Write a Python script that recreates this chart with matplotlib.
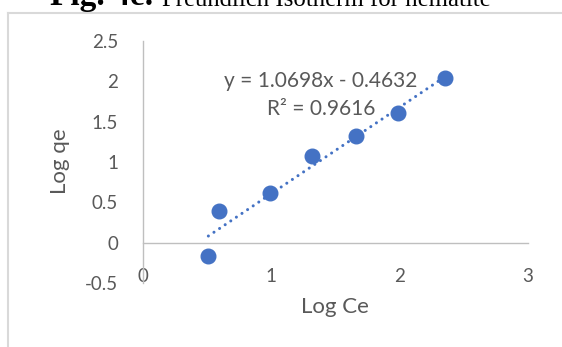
import matplotlib
matplotlib.use("Agg")
import matplotlib.pyplot as plt
from matplotlib.lines import Line2D

# Data
log_ce = [0.51, 0.594, 0.99, 1.318, 1.664, 1.99, 2.354]
log_qe = [-0.166, 0.392, 0.618, 1.077, 1.325, 1.602, 2.043]
slope = 1.0698
intercept = -0.4632
r_squared = 0.9616
x_ticks = [0, 1, 2, 3]
y_ticks = [-0.5, 0, 0.5, 1, 1.5, 2, 2.5]

W, H = 562, 347
fig = plt.figure(figsize=(W / 100, H / 100), dpi=100)
fig.patch.set_facecolor("white")

font = ["Lato", "DejaVu Sans"]
grey_txt = "#595959"
axis_col = "#bfbfbf"
blue = "#4472C4"

ax = fig.add_axes([143 / W, 1 - 283 / H, (527.5 - 143) / W, (283 - 41) / H])
ax.set_xlim(0, 3)
ax.set_ylim(-0.5, 2.5)
ax.set_facecolor("none")

for s in ["top", "right"]:
    ax.spines[s].set_visible(False)
ax.spines["bottom"].set_position(("data", 0))
ax.spines["left"].set_position(("data", 0))
ax.spines["bottom"].set_color(axis_col)
ax.spines["left"].set_color(axis_col)
ax.spines["bottom"].set_linewidth(1.0)
ax.spines["left"].set_linewidth(1.0)

ax.set_xticks(x_ticks)
ax.set_yticks(y_ticks)
ax.set_xticklabels([f"{v:g}" for v in x_ticks])
ax.set_yticklabels([f"{v:g}" for v in y_ticks])
ax.tick_params(axis="x", length=0, pad=18, labelsize=13.5, labelcolor=grey_txt)
ax.tick_params(axis="y", length=0, pad=18, labelsize=13.5, labelcolor=grey_txt)
for lab in ax.get_xticklabels() + ax.get_yticklabels():
    lab.set_family(font)

# trendline
xs = [min(log_ce), max(log_ce)]
ys = [slope * x + intercept for x in xs]
ax.plot(xs, ys, color=blue, linewidth=2.2, linestyle=(0, (0.01, 2.2)),
        dash_capstyle="round", zorder=2)

ax.plot(log_ce, log_qe, linestyle="none", marker="o", markersize=10.5,
        markerfacecolor=blue, markeredgecolor=blue, zorder=3)

ax.text(1.388, 1.928, f"y = {slope:.4f}x - {abs(intercept):.4f}", ha="center",
        va="baseline", fontsize=15, color=grey_txt, family=font)
ax.text(1.388, 1.581, f"R² = {r_squared:.4f}", ha="center",
        va="baseline", fontsize=15, color=grey_txt, family=font)

fig.text(334.5 / W, 1 - 313 / H, "Log Ce", ha="center", va="baseline",
         fontsize=16, color=grey_txt, family=font)
fig.text(60 / W, 1 - 161 / H, "Log qe", ha="center", va="center", rotation=90,
         fontsize=16, color=grey_txt, family=font)

# chart border
fig.add_artist(Line2D([8 / W, 8 / W], [0, 1 - 13 / H], transform=fig.transFigure,
                      color="#d9d9d9", linewidth=1.5))
fig.add_artist(Line2D([8 / W, 1], [1 - 13 / H, 1 - 13 / H], transform=fig.transFigure,
                      color="#d9d9d9", linewidth=1.5))

# cropped caption
fig.text(50 / W, 1 - 5.5 / H, "Fig. 4e.", ha="left", va="baseline", fontsize=24,
         fontweight="bold", family="Liberation Serif", color="black")
fig.text(162 / W, 1 - 5.5 / H, "Freundlich Isotherm for hematite", ha="left",
         va="baseline", fontsize=17.8, family="Liberation Serif", color="black")

fig.savefig("out.png", dpi=100)
